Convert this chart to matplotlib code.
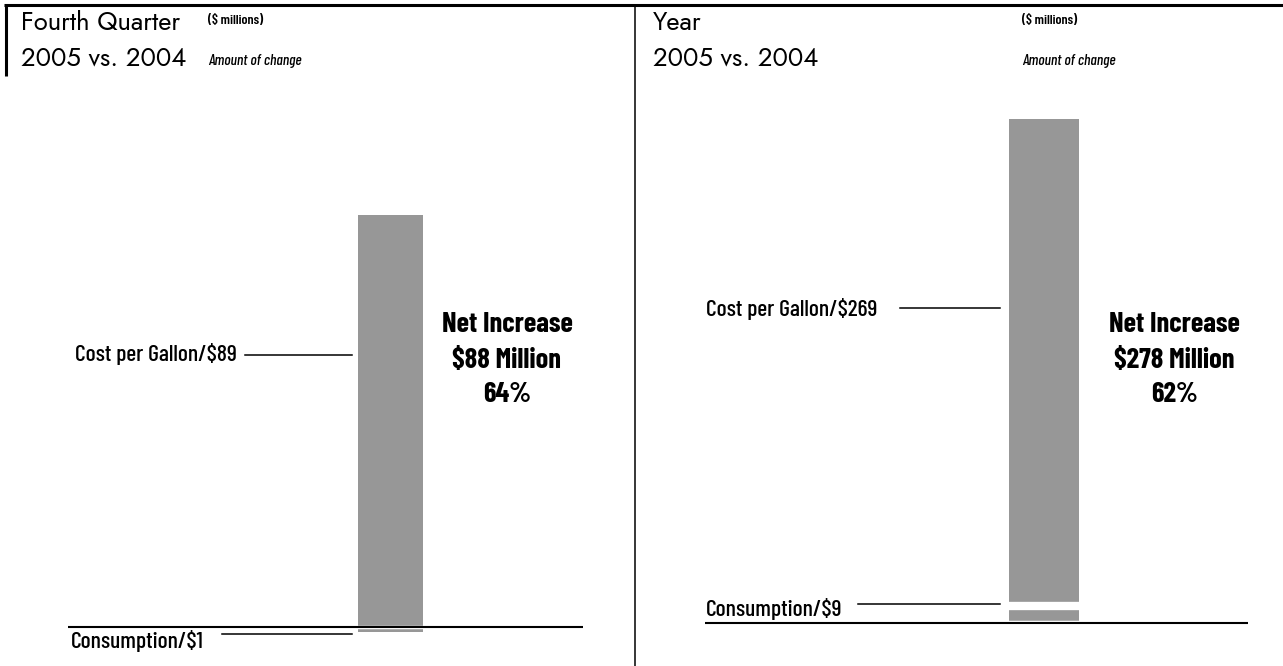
import matplotlib
matplotlib.use("Agg")
import matplotlib.pyplot as plt

# fuel expense change, $ millions
components = ["Cost per Gallon", "Consumption"]
q4_values = [89, -1]
year_values = [269, 9]
q4_net = 88
q4_pct = 64
year_net = 278
year_pct = 62

W, H = 1283, 666
BAR_COLOR = "#979797"
NARROW = ["Barlow Condensed", "Roboto Condensed", "Oswald", "Archivo Narrow",
          "Liberation Sans Narrow", "DejaVu Sans"]
TITLE = ["Jost", "League Spartan", "Lato", "DejaVu Sans"]

fig = plt.figure(figsize=(W / 100, H / 100), dpi=100)


def bar_axes(x0, x1, px_top, px_zero, px_bottom, val_top):
    """Axes whose data scale puts 0 at px_zero and val_top at px_top."""
    scale = (px_zero - px_top) / val_top
    ylo = -(px_bottom - px_zero) / scale
    ax = fig.add_axes([x0 / W, 1 - px_bottom / H, (x1 - x0) / W, (px_bottom - px_top) / H])
    ax.set_xlim(-0.5, 0.5)
    ax.set_ylim(ylo, val_top)
    ax.axis("off")
    return ax


def draw_stack(ax, values):
    cost, cons = values
    # consumption sits at the bottom when positive, below the baseline when negative
    ax.bar(0, cons, width=1, color=BAR_COLOR)
    ax.bar(0, cost, bottom=max(cons, 0), width=1, color=BAR_COLOR)
    ax.axhline(0, color="white", lw=2.5)
    if cons > 0:
        ax.axhline(cons, color="white", lw=6)


ax_q4 = bar_axes(358, 423, 215, 627, 645, sum(v for v in q4_values if v > 0))
draw_stack(ax_q4, q4_values)
ax_yr = bar_axes(1009, 1079, 119, 622, 640, sum(v for v in year_values if v > 0))
draw_stack(ax_yr, year_values)

# overlay in pixel coordinates for frame, labels and leader lines
ov = fig.add_axes([0, 0, 1, 1])
ov.set_xlim(0, W)
ov.set_ylim(H, 0)
ov.axis("off")
ov.patch.set_alpha(0)

ov.plot([4, W], [5, 5], color="black", lw=2.2, solid_capstyle="butt")
ov.plot([5.5, 5.5], [4, 76], color="black", lw=2.2, solid_capstyle="butt")
ov.plot([635, 635], [4, H], color="black", lw=1.1, solid_capstyle="butt")

# titles
for x0, x1, title in [(21, 208, "Fourth Quarter"), (653, 1022, "Year")]:
    ov.text(x0, 30, title, fontsize=18.5, family=TITLE, va="baseline", ha="left")
    ov.text(x0, 65, "2005 vs. 2004", fontsize=18.5, family=TITLE, va="baseline", ha="left")
    ov.text(x1, 21, "($ millions)", fontsize=10, family=NARROW, fontweight="semibold",
            va="center", ha="left")
    ov.text(x1, 61, "Amount of change", fontsize=11, family=NARROW, style="italic",
            fontweight="medium", va="center", ha="left")

# baselines
ov.plot([68, 583], [627, 627], color="black", lw=1.5, solid_capstyle="butt")
ov.plot([705, 1248], [623, 623], color="black", lw=1.5, solid_capstyle="butt")

# component labels and leader lines
ov.text(237, 354, f"{components[0]}/${q4_values[0]}", fontsize=17, family=NARROW,
        fontweight="medium", va="center", ha="right")
ov.plot([245, 352], [355, 355], color="black", lw=1.1)
ov.text(71, 641, f"{components[1]}/${abs(q4_values[1])}", fontsize=17, family=NARROW,
        fontweight="medium", va="center", ha="left")
ov.plot([222, 352], [634, 634], color="black", lw=1.1)

ov.text(706, 309, f"{components[0]}/${year_values[0]}", fontsize=17, family=NARROW,
        fontweight="medium", va="center", ha="left")
ov.plot([900, 1000], [308, 308], color="black", lw=1.1)
ov.text(706, 609, f"{components[1]}/${year_values[1]}", fontsize=17, family=NARROW,
        fontweight="medium", va="center", ha="left")
ov.plot([858, 1000], [604, 604], color="black", lw=1.1)

# net increase callouts
for cx, net, pct in [(507, q4_net, q4_pct), (1174, year_net, year_pct)]:
    for y, line in zip([325, 360, 395], ["Net Increase", f"${net} Million", f"{pct}%"]):
        ov.text(cx, y, line, fontsize=20.5, family=NARROW, fontweight="bold",
                va="center", ha="center")

fig.savefig("out.png", dpi=100)
